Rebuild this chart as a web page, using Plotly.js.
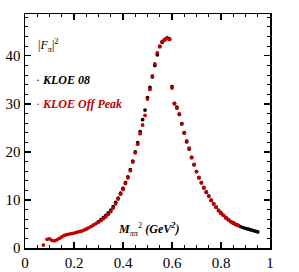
<!DOCTYPE html>
<html><head><meta charset="utf-8">
<script src="https://cdn.plot.ly/plotly-3.0.1.min.js"></script>
<style>html,body{margin:0;padding:0;background:#fff}#c{width:299px;height:272px}</style>
</head><body><div id="c"></div>
<script>
// KLOE Off Peak (red)
const offX = [0.075,0.09,0.10,0.11,0.12,0.13,0.14,0.15,0.16,0.17,0.18,0.19,0.20,0.21,0.22,0.23,0.24,0.25,0.26,0.27,0.28,0.29,0.30,0.31,0.32,0.33,0.34,0.35,0.36,0.37,0.38,0.39,0.40,0.41,0.42,0.43,0.44,0.45,0.46,0.47,0.48,0.49,0.50,0.51,0.52,0.53,0.54,0.55,0.56,0.57,0.58,0.59,0.60,0.61,0.62,0.63,0.64,0.65,0.66,0.67,0.68,0.69,0.70,0.71,0.72,0.73,0.74,0.75,0.76,0.77,0.78,0.79,0.80,0.81,0.82,0.83,0.84,0.85,0.86,0.87];
const offY = [0.6,1.8,1.9,1.6,1.5,1.7,2.0,2.3,2.6,2.8,2.9,3.0,3.1,3.25,3.4,3.5,3.7,3.95,4.2,4.5,4.8,5.1,5.4,5.7,6.1,6.5,7.0,7.6,8.3,9.2,10.2,11.2,12.2,13.4,14.6,16.1,17.9,19.8,21.6,23.8,25.6,27.6,31.0,33.0,35.8,38.3,40.6,42.0,43.0,43.4,43.6,43.4,33.3,30.0,29.1,27.9,25.8,23.9,22.3,20.8,18.9,17.4,15.9,14.7,13.6,12.6,11.7,10.8,10.0,9.2,8.5,7.8,7.2,6.8,6.3,5.9,5.5,5.2,4.9,4.7];
// KLOE 08 (black)
const k08X = [0.30,0.31,0.32,0.33,0.34,0.35,0.36,0.37,0.38,0.39,0.40,0.41,0.42,0.43,0.44,0.45,0.46,0.47,0.48,0.49,0.50,0.51,0.52,0.53,0.54,0.55,0.56,0.57,0.58,0.59,0.60,0.61,0.62,0.63,0.64,0.65,0.66,0.67,0.68,0.69,0.70,0.71,0.72,0.73,0.74,0.75,0.76,0.77,0.78,0.79,0.80,0.81,0.82,0.83,0.84,0.85,0.86,0.87,0.88,0.89,0.90,0.91,0.92,0.93,0.94,0.95];
const k08Y = [5.5,5.9,6.3,6.8,7.3,7.9,8.6,9.5,10.4,11.4,12.4,13.6,14.8,16.3,18.1,20.0,21.9,24.2,26.7,28.7,31.3,33.4,35.6,38.0,40.2,41.9,42.8,43.3,43.7,43.5,33.6,30.1,29.3,27.8,25.9,24.0,22.1,20.6,18.8,17.3,15.9,14.6,13.6,12.5,11.6,10.8,9.9,9.2,8.5,7.8,7.3,6.8,6.3,5.9,5.5,5.2,4.9,4.7,4.45,4.25,4.1,3.95,3.8,3.65,3.5,3.35];

const tickVals = [0,0.2,0.4,0.6,0.8,1];
const tickText = ['0','0.2','0.4','0.6','0.8','1'];

const serif = 'Liberation Serif, Times New Roman, serif';
const red = '#c00000';

const traces = [
  {x: k08X, y: k08Y, type:'scatter', mode:'markers', name:'KLOE 08',
   marker:{color:'#000', size:3.8}},
  {x: offX, y: offY, type:'scatter', mode:'markers', name:'KLOE Off Peak',
   marker:{color:red, size:3.8}}
];

const axisCommon = {
  showline:true, linecolor:'#000', linewidth:1.5, mirror:'ticks',
  ticks:'inside', ticklen:6, tickwidth:1.3, tickcolor:'#000',
  showgrid:false, zeroline:false,
  tickfont:{family:serif, size:15, color:'#000'}
};

const layout = {
  width:299, height:272,
  margin:{l:25, r:29, t:14, b:24},
  paper_bgcolor:'#fff', plot_bgcolor:'#fff',
  showlegend:false,
  xaxis: Object.assign({}, axisCommon, {range:[0,1], tickvals:tickVals, ticktext:tickText,
    minor:{ticks:'inside', dtick:0.05, ticklen:3, tickcolor:'#000', tickwidth:1}}),
  yaxis: Object.assign({}, axisCommon, {range:[0,48.7], dtick:10,
    minor:{ticks:'inside', dtick:2, ticklen:3, tickcolor:'#000', tickwidth:1}}),
  annotations:[
    {xref:'paper', yref:'paper', x:0.045, y:0.865, xanchor:'left', yanchor:'middle', showarrow:false,
     text:'|<i>F</i><sub><i>π</i></sub>|<sup>2</sup>', font:{family:serif, size:12, color:'#000'}},
    {xref:'paper', yref:'paper', x:0.037, y:0.716, xanchor:'left', yanchor:'middle', showarrow:false,
     text:'· <b><i>KLOE 08</i></b>', font:{family:serif, size:12, color:'#000'}},
    {xref:'paper', yref:'paper', x:0.037, y:0.614, xanchor:'left', yanchor:'middle', showarrow:false,
     text:'· <b><i>KLOE Off Peak</i></b>', font:{family:serif, size:12, color:red}},
    {xref:'paper', yref:'paper', x:0.37, y:0.08, xanchor:'left', yanchor:'middle', showarrow:false,
     text:'<b><i>M</i></b><sub><i>ππ</i></sub><sup>2</sup> <b><i>(GeV<sup>2</sup>)</i></b>', font:{family:serif, size:12, color:'#000'}}
  ]
};

Plotly.newPlot('c', traces, layout, {staticPlot:true, displayModeBar:false});
</script></body></html>
